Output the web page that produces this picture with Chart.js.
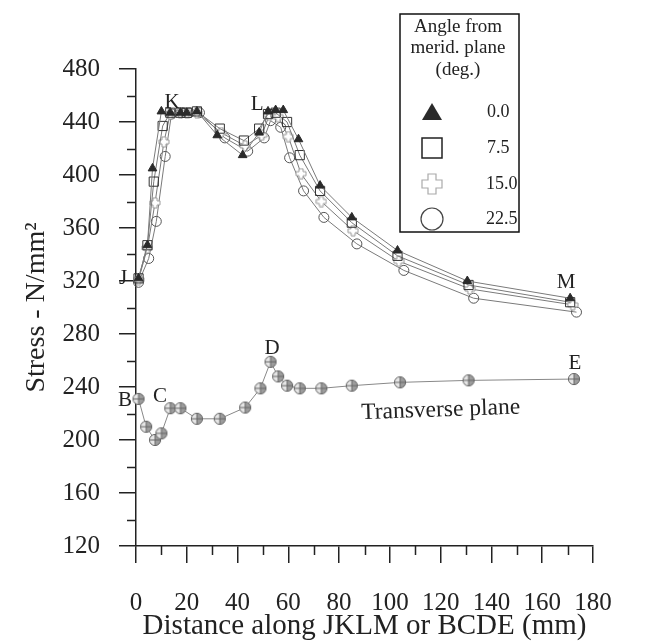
<!DOCTYPE html>
<html>
<head>
<meta charset="utf-8">
<script src="https://cdn.jsdelivr.net/npm/chart.js@4.4.1/dist/chart.umd.min.js"></script>
<style>
html,body{margin:0;padding:0;background:#fff;}
#wrap{width:649px;height:643px;position:relative;}
</style>
</head>
<body>
<div id="wrap"><canvas id="c"></canvas></div>
<script>
// ---------------- data ----------------
const xTickLabels = [0, 20, 40, 60, 80, 100, 120, 140, 160, 180];
const yTickLabels = [120, 160, 200, 240, 280, 320, 360, 400, 440, 480];
const legendLabels = ['0.0', '7.5', '15.0', '22.5'];

const xAngle0 = [1, 4.5, 6.5, 10, 13.5, 17.5, 20, 24, 32, 42, 48.5, 52, 55, 58, 64, 72.5, 85, 103, 130.5, 171];
const yAngle0 = [322, 347, 405, 448, 447, 447, 447, 448, 430, 415, 432, 448, 449, 449, 427, 392, 368, 343, 320, 307];

const xAngle75 = [1, 4.5, 7, 10.5, 13.5, 17.5, 20, 24, 33, 42.5, 48.5, 52, 55, 59.5, 64.5, 72.5, 85, 103, 131, 171];
const yAngle75 = [322, 347, 395, 437, 447, 447, 447, 448, 435, 426, 435, 446, 447, 440, 415, 388, 364, 339, 317, 304];

const xAngle15 = [1, 4.5, 7.5, 11, 13.5, 17.5, 20, 24, 33.5, 43, 49.5, 52.5, 56, 60, 65, 73, 85.5, 103.5, 131.5, 172];
const yAngle15 = [321, 345, 379, 425, 446, 447, 447, 447, 432, 422, 430, 445, 444, 429, 401, 380, 358, 335, 314, 302];

const xAngle225 = [1, 5, 8, 11.5, 14, 18, 21, 25, 35, 44, 50.5, 53, 57, 60.5, 66, 74, 87, 105.5, 133, 173.5];
const yAngle225 = [319, 337, 365, 414, 446, 447, 447, 447, 428, 418, 428, 441, 436, 413, 388, 368, 348, 328, 307, 296.5];

const xTransverse = [1, 4, 7.5, 10, 13.5, 17.5, 24, 33, 43, 49, 53, 56, 59.5, 64.5, 73, 85, 104, 131, 172.5];
const yTransverse = [231, 210, 200, 205, 224, 224, 216, 216, 224.5, 239, 259, 248, 241, 239, 239, 241, 243.5, 245, 246];

const pointLabels = ['J', 'K', 'L', 'M', 'B', 'C', 'D', 'E'];
const pointLabelX = [-5.1, 14.2, 47.7, 169.4, -4.3, 9.5, 53.6, 172.9];
const pointLabelY = [322, 455, 453, 319, 230, 233, 269, 258];
// ---------------------------------------

const FONT = "'Liberation Serif', 'Times New Roman', serif";
Chart.defaults.font.family = FONT;
Chart.defaults.color = '#222';

function makeCanvas(w, h, draw) {
  const c = document.createElement('canvas');
  c.width = w; c.height = h;
  draw(c.getContext('2d'));
  return c;
}
function plusPath(ctx, cx, cy, a, b) {
  ctx.beginPath();
  ctx.moveTo(cx - b, cy - a); ctx.lineTo(cx + b, cy - a); ctx.lineTo(cx + b, cy - b);
  ctx.lineTo(cx + a, cy - b); ctx.lineTo(cx + a, cy + b); ctx.lineTo(cx + b, cy + b);
  ctx.lineTo(cx + b, cy + a); ctx.lineTo(cx - b, cy + a); ctx.lineTo(cx - b, cy + b);
  ctx.lineTo(cx - a, cy + b); ctx.lineTo(cx - a, cy - b); ctx.lineTo(cx - b, cy - b);
  ctx.closePath();
}
const crossImg = makeCanvas(12, 12, ctx => {
  plusPath(ctx, 6, 6, 5, 2);
  ctx.fillStyle = '#fff'; ctx.fill();
  ctx.strokeStyle = '#9a9a9a'; ctx.lineWidth = 1; ctx.stroke();
});
const transImg = makeCanvas(14, 14, ctx => {
  const c = 7, r = 5.6;
  ctx.beginPath(); ctx.arc(c, c, r, 0, 2 * Math.PI); ctx.fillStyle = '#e6e6e6'; ctx.fill();
  ctx.beginPath(); ctx.moveTo(c, c); ctx.arc(c, c, r, -Math.PI / 2, Math.PI / 2); ctx.closePath();
  ctx.fillStyle = '#9c9c9c'; ctx.fill();
  ctx.strokeStyle = '#666'; ctx.lineWidth = 1;
  ctx.beginPath(); ctx.arc(c, c, r, 0, 2 * Math.PI); ctx.stroke();
  ctx.beginPath(); ctx.moveTo(c, c - r); ctx.lineTo(c, c + r); ctx.moveTo(c - r, c); ctx.lineTo(c + r, c); ctx.stroke();
});

function pts(xs, ys) { return xs.map((v, i) => ({ x: v, y: ys[i] })); }

const overlay = {
  id: 'overlay',
  afterDraw(chart) {
    const { ctx, scales: { x, y }, chartArea } = chart;
    ctx.save();
    // minor ticks
    ctx.strokeStyle = '#222'; ctx.lineWidth = 1.5;
    ctx.beginPath();
    for (let v = 140; v < 480; v += 40) {
      const py = Math.round(y.getPixelForValue(v)) + 0.5;
      ctx.moveTo(chartArea.left - 9, py); ctx.lineTo(chartArea.left, py);
    }
    for (let v = 10; v < 180; v += 20) {
      const px = Math.round(x.getPixelForValue(v)) + 0.5;
      ctx.moveTo(px, chartArea.bottom); ctx.lineTo(px, chartArea.bottom + 9);
    }
    ctx.stroke();

    // point labels
    ctx.fillStyle = '#222';
    ctx.font = '21px ' + FONT;
    ctx.textAlign = 'center'; ctx.textBaseline = 'middle';
    pointLabels.forEach((t, i) => {
      ctx.fillText(t, x.getPixelForValue(pointLabelX[i]), y.getPixelForValue(pointLabelY[i]));
    });
    // transverse plane label
    ctx.save();
    ctx.translate(x.getPixelForValue(120), y.getPixelForValue(222.5));
    ctx.rotate(-0.035);
    ctx.font = '23.5px ' + FONT;
    ctx.fillText('Transverse plane', 0, 0);
    ctx.restore();

    // legend
    const L = 400, T = 14, W = 119, H = 218;
    ctx.fillStyle = '#fff';
    ctx.fillRect(L, T, W, H);
    ctx.strokeStyle = '#111'; ctx.lineWidth = 1.5;
    ctx.strokeRect(L, T, W, H);
    ctx.fillStyle = '#222';
    ctx.font = '19px ' + FONT;
    ctx.textAlign = 'center';
    ctx.fillText('Angle from', 458, 27);
    ctx.fillText('merid. plane', 458, 48);
    ctx.fillText('(deg.)', 458, 70);
    const rows = [112, 148, 184, 219];
    const mx = 432;
    // triangle
    ctx.beginPath();
    ctx.moveTo(mx, rows[0] - 9); ctx.lineTo(mx + 10, rows[0] + 8); ctx.lineTo(mx - 10, rows[0] + 8); ctx.closePath();
    ctx.fillStyle = '#2a2a2a'; ctx.fill();
    // square
    ctx.strokeStyle = '#222'; ctx.lineWidth = 1.5;
    ctx.strokeRect(mx - 10, rows[1] - 10, 20, 20);
    // cross
    plusPath(ctx, mx, rows[2], 10, 4);
    ctx.strokeStyle = '#aaa'; ctx.lineWidth = 1.2; ctx.stroke();
    // circle
    ctx.beginPath(); ctx.arc(mx, rows[3], 11, 0, 2 * Math.PI);
    ctx.strokeStyle = '#444'; ctx.lineWidth = 1.2; ctx.stroke();
    ctx.fillStyle = '#222';
    ctx.font = '18px ' + FONT;
    ctx.textAlign = 'left';
    legendLabels.forEach((t, i) => ctx.fillText(t, t.length > 3 ? 486 : 487, rows[i]));
    ctx.restore();
  }
};

const lineColor = '#7a7a7a';
new Chart(document.getElementById('c'), {
  type: 'line',
  data: {
    datasets: [
      { label: '0.0', data: pts(xAngle0, yAngle0), borderColor: lineColor, borderWidth: 1,
        pointStyle: 'triangle', pointRadius: 5, pointBackgroundColor: '#2a2a2a', pointBorderColor: '#2a2a2a', pointBorderWidth: 1 },
      { label: '7.5', data: pts(xAngle75, yAngle75), borderColor: lineColor, borderWidth: 1,
        pointStyle: 'rect', pointRadius: 6.5, pointBackgroundColor: 'rgba(255,255,255,0)', pointBorderColor: '#333', pointBorderWidth: 1 },
      { label: '15.0', data: pts(xAngle15, yAngle15), borderColor: lineColor, borderWidth: 1,
        pointStyle: crossImg, pointRadius: 5 },
      { label: '22.5', data: pts(xAngle225, yAngle225), borderColor: lineColor, borderWidth: 1,
        pointStyle: 'circle', pointRadius: 5, pointBackgroundColor: 'rgba(255,255,255,0)', pointBorderColor: '#555', pointBorderWidth: 1 },
      { label: 'Transverse', data: pts(xTransverse, yTransverse), borderColor: '#888', borderWidth: 1,
        pointStyle: transImg, pointRadius: 6 }
    ]
  },
  options: {
    responsive: true,
    maintainAspectRatio: false,
    devicePixelRatio: 1,
    animation: false,
    layout: { padding: { left: 0, right: 56, top: 69, bottom: 0 } },
    elements: { line: { tension: 0 } },
    datasets: { line: { clip: false } },
    plugins: { legend: { display: false }, tooltip: { enabled: false } },
    scales: {
      x: {
        type: 'linear', position: 'bottom', min: 0, max: 180,
        afterBuildTicks(scale) { scale.ticks = xTickLabels.map(v => ({ value: v })); },
        afterFit(scale) { scale.height = 97; },
        ticks: { font: { size: 25 }, color: '#222', padding: 25, maxRotation: 0, autoSkip: false },
        grid: { drawOnChartArea: false, drawTicks: true, tickLength: 17, color: '#222', lineWidth: 1.5 },
        border: { display: true, color: '#222', width: 1.5 },
        title: { display: true, text: 'Distance along JKLM or BCDE (mm)', font: { size: 29 }, color: '#222', padding: { top: 0, bottom: -1 } }
      },
      y: {
        type: 'linear', position: 'left', min: 120, max: 480,
        afterBuildTicks(scale) { scale.ticks = yTickLabels.map(v => ({ value: v })); },
        afterFit(scale) { scale.width = 136; },
        ticks: { font: { size: 25 }, color: '#222', padding: 19 },
        grid: { drawOnChartArea: false, drawTicks: true, tickLength: 17, color: '#222', lineWidth: 1.5 },
        border: { display: true, color: '#222', width: 1.5 },
        title: { display: true, text: 'Stress - N/mm²', font: { size: 28 }, color: '#222', padding: { top: 20, bottom: 0 } }
      }
    }
  },
  plugins: [overlay]
});
</script>
</body>
</html>
